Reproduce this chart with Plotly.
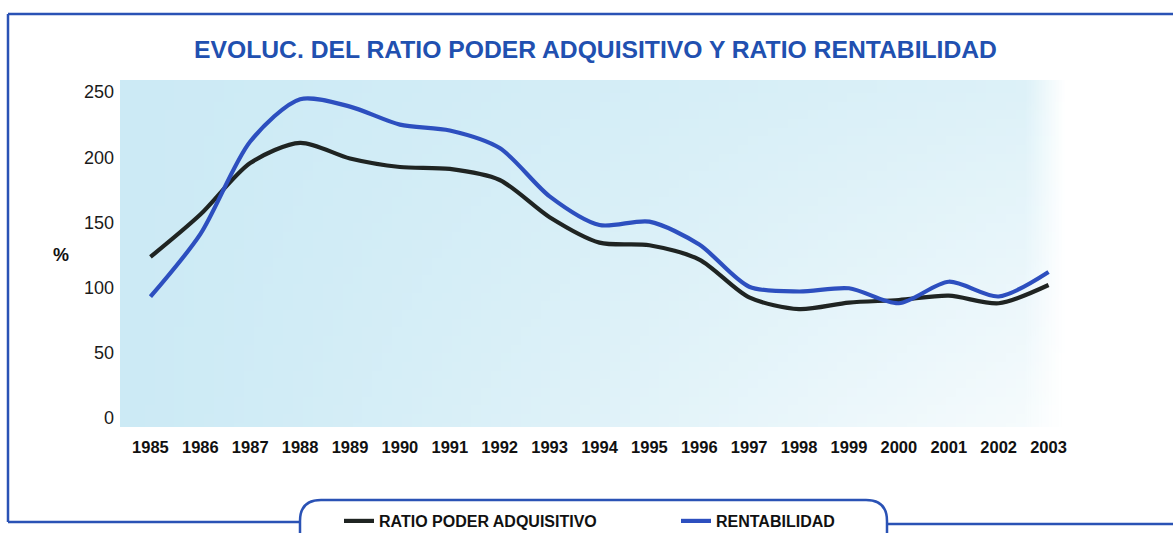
import base64
import struct
import zlib
import plotly.graph_objects as go

# ---------------- data ----------------
years = list(range(1985, 2004))
year_labels = [str(y) for y in years]
ratio_poder_adquisitivo = [123.5, 156, 195.5, 211, 199, 192.5, 191, 182.5, 154, 134.5,
                           132.5, 121.5, 92.5, 83.5, 88.5, 90.5, 93.8, 88, 102]
rentabilidad = [93, 141, 212, 244.5, 238.8, 225, 220.5, 207, 170, 148,
                150.6, 133, 100.7, 97, 99.5, 88, 104.5, 93.2, 112]
y_ticks = [0, 50, 100, 150, 200, 250]

# ---------------- geometry helpers ----------------
W, H = 1173, 533
L, R, T, B = 120, 1070, 80, 427


def px(x):
    return (x - L) / (R - L)


def py(y):
    return (B - y) / (B - T)


NARROW = "Liberation Sans Narrow, Arial Narrow, Liberation Sans, Arial, sans-serif"
REG = "Liberation Sans, Arial, sans-serif"
FRAME = "#2a52b5"
BLUE = "#2d4fbf"
BLACK = "#1f2422"


def make_png(w, h, fn):
    rows = []
    for j in range(h):
        row = bytearray([0])
        for i in range(w):
            row += bytes(fn(i / (w - 1), j / (h - 1)))
        rows.append(bytes(row))
    raw = b"".join(rows)

    def chunk(t, d):
        return struct.pack(">I", len(d)) + t + d + struct.pack(">I", zlib.crc32(t + d) & 0xFFFFFFFF)

    png = (b"\x89PNG\r\n\x1a\n"
           + chunk(b"IHDR", struct.pack(">IIBBBBB", w, h, 8, 6, 0, 0, 0))
           + chunk(b"IDAT", zlib.compress(raw, 9))
           + chunk(b"IEND", b""))
    return "data:image/png;base64," + base64.b64encode(png).decode()


c1 = (204, 234, 245)
c0 = (248, 252, 253)


def bg(xf, yf):
    s = 1 - (xf ** 1.15) * (0.4 + 0.6 * yf)
    s = max(0.0, min(1.0, s))
    col = [int(round(c0[k] + (c1[k] - c0[k]) * s)) for k in range(3)]
    a = 255 if xf < 0.96 else int(255 * max(0.0, 1 - (xf - 0.96) / 0.04))
    return col + [a]


bg_uri = make_png(96, 40, bg)

fig = go.Figure()
fig.add_trace(go.Scatter(x=years, y=ratio_poder_adquisitivo, name="RATIO PODER ADQUISITIVO",
                         mode="lines", line=dict(color=BLACK, width=4.2, shape="spline", smoothing=0.8)))
fig.add_trace(go.Scatter(x=years, y=rentabilidad, name="RENTABILIDAD",
                         mode="lines", line=dict(color=BLUE, width=4.2, shape="spline", smoothing=0.8)))

shapes = [
    dict(type="line", xref="paper", yref="paper", x0=px(8), y0=py(14), x1=px(1180), y1=py(14),
         line=dict(color=FRAME, width=2.5)),
    dict(type="line", xref="paper", yref="paper", x0=px(8), y0=py(14), x1=px(8), y1=py(522),
         line=dict(color=FRAME, width=2.5)),
    dict(type="line", xref="paper", yref="paper", x0=px(8), y0=py(522), x1=px(300), y1=py(522),
         line=dict(color=FRAME, width=2.5)),
    dict(type="line", xref="paper", yref="paper", x0=px(887), y0=py(524), x1=px(1180), y1=py(524),
         line=dict(color=FRAME, width=2.5)),
    dict(type="path", xref="paper", yref="paper",
         path=(f"M {px(300)},{py(540)} L {px(300)},{py(521)} "
               f"Q {px(300)},{py(500)} {px(321)},{py(500)} "
               f"L {px(866)},{py(500)} Q {px(887)},{py(500)} {px(887)},{py(521)} "
               f"L {px(887)},{py(540)}"),
         line=dict(color=FRAME, width=2.5)),
]

fig.update_layout(
    width=W, height=H,
    margin=dict(l=L, r=W - R, t=T, b=H - B, autoexpand=False),
    paper_bgcolor="white", plot_bgcolor="rgba(0,0,0,0)",
    images=[dict(source=bg_uri, xref="paper", yref="paper", x=0, y=1, sizex=1, sizey=1,
                 sizing="stretch", xanchor="left", yanchor="top", layer="below")],
    title=dict(text="EVOLUC. DEL RATIO PODER ADQUISITIVO Y RATIO RENTABILIDAD",
               x=595.5 / W, xanchor="center", y=1 - 49 / H, yanchor="middle",
               font=dict(family=NARROW, size=24.7, color="#2150b0", weight="bold")),
    xaxis=dict(range=[1984.39, 2003.43], tickmode="array", tickvals=years, ticktext=year_labels,
               showgrid=False, zeroline=False, showline=False, ticks="",
               ticklabelstandoff=8,
               tickfont=dict(family=NARROW, size=16.5, color="#111111", weight="bold")),
    yaxis=dict(range=[-6.9, 259.2], tickmode="array", tickvals=y_ticks,
               showgrid=False, zeroline=False, showline=False, ticks="",
               ticklabelstandoff=5,
               tickfont=dict(family=REG, size=18, color="#1a1a1a")),
    showlegend=True,
    legend=dict(orientation="h", x=px(339), xanchor="left", y=py(521), yanchor="middle",
                entrywidth=292, entrywidthmode="pixels", bgcolor="rgba(0,0,0,0)",
                font=dict(family=NARROW, size=16, color="#111111", weight="bold")),
    shapes=shapes,
    annotations=[dict(text="%", xref="paper", yref="paper", x=px(61), y=py(254.5),
                      xanchor="center", yanchor="middle", showarrow=False,
                      font=dict(family=REG, size=18, color="#111111", weight="bold"))],
)

fig.write_html("out.html", config={"displayModeBar": False},
               post_script="document.body.style.margin='0';document.body.style.overflow='hidden';")
